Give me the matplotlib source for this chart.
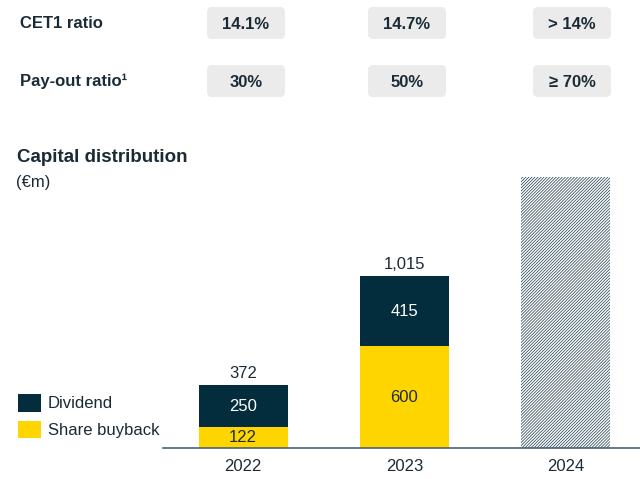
import matplotlib.pyplot as plt
from matplotlib.patches import FancyBboxPatch

plt.rcParams['font.family'] = ['Liberation Sans', 'DejaVu Sans']
plt.rcParams['hatch.linewidth'] = 0.55

# datos
years = ["2022", "2023", "2024"]
buyback = [122, 600]
dividend = [250, 415]
totals = ["372", "1,015"]
target_2024 = 1600  # barra rayada, sin valor

row_labels = ["CET1 ratio", "Pay-out ratio\u00b9"]
row_values = [["14.1%", "14.7%", "> 14%"],
              ["30%", "50%", "\u2265 70%"]]

navy = "#032d3c"
yellow = "#ffd500"
txt = "#1b2b35"

fig = plt.figure(figsize=(6.4, 4.79), dpi=100)

# capa de fondo en pixeles para la tabla superior
bg = fig.add_axes([0, 0, 1, 1])
bg.set_xlim(0, 640)
bg.set_ylim(479, 0)
bg.axis("off")

box_x = [207, 368, 533]
box_y = [7, 65]
for r in range(2):
    bg.text(20, box_y[r] + 16, row_labels[r], fontsize=12, fontweight="bold",
            color=txt, va="center", ha="left")
    for c in range(3):
        bg.add_patch(FancyBboxPatch((box_x[c] + 4, box_y[r] + 4), 70, 24,
                                    boxstyle="round,pad=4,rounding_size=5",
                                    fc="#ebebeb", ec="none"))
        bg.text(box_x[c] + 39, box_y[r] + 17, row_values[r][c], fontsize=12,
                fontweight="bold", color=txt, va="center", ha="center")

bg.text(17, 157, "Capital distribution", fontsize=13.5, fontweight="bold",
        color=txt, va="center", ha="left")
bg.text(16, 182, "(\u20acm)", fontsize=12, color=txt, va="center", ha="left")

# leyenda
bg.add_patch(plt.Rectangle((18, 394), 23, 18, fc=navy, ec="none"))
bg.add_patch(plt.Rectangle((18, 421), 23, 17, fc=yellow, ec="none"))
bg.text(48, 404, "Dividend", fontsize=12, color=txt, va="center")
bg.text(48, 431, "Share buyback", fontsize=12, color=txt, va="center")

# grafico de barras
ax = fig.add_axes([163 / 640, 31 / 479, 477 / 640, 278 / 479])
ax.set_xlim(-0.497, 2.46)
ax.set_ylim(0, 1640)
w = 0.553

x = [0, 1]
ax.bar(x, buyback, width=w, color=yellow)
ax.bar(x, dividend, width=w, bottom=buyback, color=navy)
ax.bar([2], [target_2024], width=w, color="white", edgecolor="#2e4a58",
       linewidth=0, hatch="///////////")

for i in range(2):
    ax.text(x[i], buyback[i] / 2, str(buyback[i]), ha="center", va="center",
            fontsize=12, color=txt)
    ax.text(x[i], buyback[i] + dividend[i] / 2, str(dividend[i]), ha="center",
            va="center", fontsize=12, color="white")
    ax.text(x[i], buyback[i] + dividend[i] + 25, totals[i], ha="center",
            va="bottom", fontsize=12, color=txt)

for s in ["top", "right", "left"]:
    ax.spines[s].set_visible(False)
ax.spines["bottom"].set_color("#4a6272")
ax.spines["bottom"].set_linewidth(1.2)
ax.set_yticks([])
ax.set_xticks(range(3))
ax.set_xticklabels(years, fontsize=12, color=txt)
ax.tick_params(axis="x", length=0, pad=8)

fig.savefig("out.png", dpi=100)
